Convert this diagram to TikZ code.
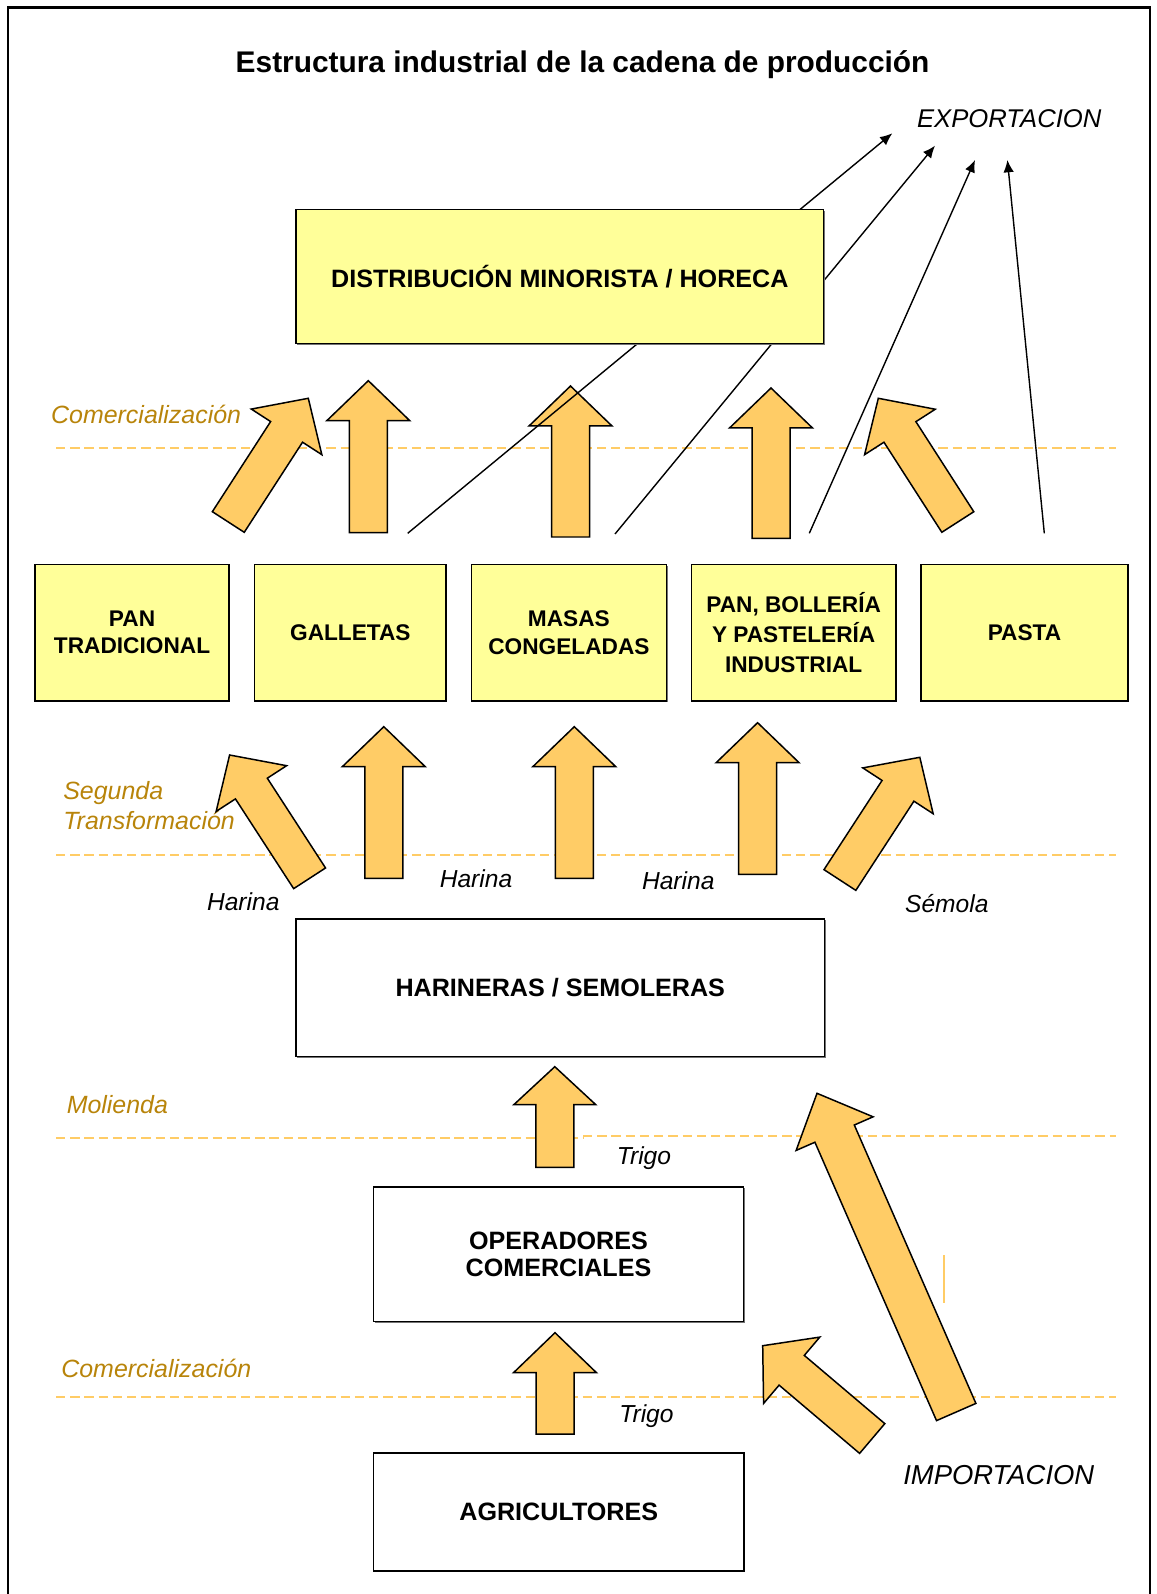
\documentclass[tikz,border=0pt]{standalone}
\usepackage{fontspec}
\setmainfont{Liberation Sans}
\usetikzlibrary{calc,arrows.meta,shadows}
\definecolor{boxyellow}{HTML}{FFFF99}
\definecolor{arrowfill}{HTML}{FFCC66}
\definecolor{stagecol}{RGB}{184,132,10}
\definecolor{dashcol}{HTML}{FFCC66}
\newcommand\blockarrow[5]{%
  \coordinate (ba-h) at ($(#2)!#5!(#1)$);
  \filldraw[blockarr] ($(#1)!#3!90:(#2)$) -- ($(ba-h)!#3!90:(#2)$) -- ($(ba-h)!#4!90:(#2)$) -- (#2)
    -- ($(ba-h)!#4!-90:(#2)$) -- ($(ba-h)!#3!-90:(#2)$) -- ($(#1)!#3!-90:(#2)$) -- cycle;
}
\tikzset{
  blockarr/.style={fill=arrowfill, draw=black, line width=0.85pt, line join=miter},
  box/.style={draw=black, line width=0.85pt, align=center, inner sep=2pt,
    general shadow={shadow xshift=0.7pt, shadow yshift=-0.7pt, fill=black!55}},
  ybox/.style={box, fill=boxyellow},
  wbox/.style={box, fill=white},
  bigtext/.style={font=\fontsize{14.3}{15.2}\selectfont\bfseries},
  smalltext/.style={font=\fontsize{12.9}{15.5}\selectfont\bfseries},
  stage/.style={anchor=base west, text=stagecol, font=\fontsize{14.2}{17}\selectfont\itshape, inner sep=0pt},
  flow/.style={anchor=base west, font=\fontsize{14}{17}\selectfont\itshape, inner sep=0pt},
  stageline/.style={draw=dashcol, line width=1.2pt, dash pattern=on 5.3pt off 2.8pt},
  exparrow/.style={draw=black, line width=0.8pt, -{Latex[length=7pt,width=6pt]}},
}
\begin{document}
\begin{tikzpicture}[x=0.02cm,y=-0.02cm]
\useasboundingbox (0,0) rectangle (1156,1594);
% frame
\draw[line width=1.2pt] (8,1594) -- (8,7.5) -- (1150,7.5) -- (1150,1594);

% title
\node[anchor=base, inner sep=0pt, font=\fontsize{17}{20}\selectfont\bfseries] (title) at (582.6,73) {Estructura industrial de la cadena de producción};

% stage labels
\node[stage] (st1) at (50.8,423.7) {Comercialización};
\node[stage, align=left] (st2a) at (63,799.5) {Segunda};
\node[stage, align=left] (st2b) at (63,829.5) {Transformación};
\node[stage] (st3) at (66.4,1113.8) {Molienda};
\node[stage] (st4) at (61,1377.4) {Comercialización};

% stage dashed lines
\draw[stageline] (56,447.7) -- (1116,447.7);
\draw[stageline] (56,855) -- (1116,855);
\draw[stageline] (56,1138.3) -- (583,1138.3);
\draw[stageline] (583,1136) -- (1116,1136);
\draw[stageline] (56,1396.7) -- (1116,1396.7);
\draw[draw=dashcol, line width=1.5pt] (944,1255) -- (944,1302.7);

% block arrow coordinates
\coordinate (a1t) at (228.3,522);   \coordinate (a1p) at (308.3,398.3);
\coordinate (a2t) at (368.3,532.7); \coordinate (a2p) at (368.3,380.7);
\coordinate (a3t) at (570.5,537);   \coordinate (a3p) at (570.5,386);
\coordinate (a4t) at (771,538.3);   \coordinate (a4p) at (771,388);
\coordinate (a5t) at (957.8,522);   \coordinate (a5p) at (878.3,398.3);
\coordinate (b1t) at (309.6,878.3); \coordinate (b1p) at (229.6,755);
\coordinate (b2t) at (383.8,878.3); \coordinate (b2p) at (383.8,726.7);
\coordinate (b3t) at (574.3,878.3); \coordinate (b3p) at (574.3,726.7);
\coordinate (b4t) at (757.6,874.3); \coordinate (b4p) at (757.6,722.7);
\coordinate (b5t) at (839.9,880);   \coordinate (b5p) at (919.8,757.3);
\coordinate (c1t) at (554.8,1167.3); \coordinate (c1p) at (554.8,1066.7);
\coordinate (c2t) at (956.2,1412);  \coordinate (c2p) at (817,1093.3);
\coordinate (c3t) at (872.2,1438.5); \coordinate (c3p) at (762.7,1345.7);
\coordinate (c4t) at (555,1434);    \coordinate (c4p) at (555,1332.7);

\blockarrow{a1t}{a1p}{0.38cm}{0.84cm}{0.8cm}
\blockarrow{a2t}{a2p}{0.38cm}{0.83cm}{0.8cm}
\blockarrow{a3t}{a3p}{0.38cm}{0.83cm}{0.8cm}
\blockarrow{a4t}{a4p}{0.38cm}{0.83cm}{0.8cm}
\blockarrow{a5t}{a5p}{0.38cm}{0.84cm}{0.8cm}
\blockarrow{b1t}{b1p}{0.38cm}{0.84cm}{0.8cm}
\blockarrow{b2t}{b2p}{0.38cm}{0.83cm}{0.8cm}
\blockarrow{b3t}{b3p}{0.38cm}{0.83cm}{0.8cm}
\blockarrow{b4t}{b4p}{0.38cm}{0.83cm}{0.8cm}
\blockarrow{b5t}{b5p}{0.38cm}{0.84cm}{0.8cm}
\blockarrow{c1t}{c1p}{0.38cm}{0.82cm}{0.76cm}
\blockarrow{c2t}{c2p}{0.43cm}{0.84cm}{0.88cm}
\blockarrow{c3t}{c3p}{0.39cm}{0.87cm}{0.76cm}
\blockarrow{c4t}{c4p}{0.38cm}{0.83cm}{0.8cm}

% export label and arrows
\node[anchor=base west, inner sep=0pt, font=\fontsize{14.6}{17}\selectfont\itshape] (export) at (916.7,128) {EXPORTACION};
\coordinate (e1t) at (407.7,533.3);  \coordinate (e1p) at (892.3,133.3);
\coordinate (e2t) at (615,534);      \coordinate (e2p) at (935,145.7);
\coordinate (e3t) at (809.3,533.3);  \coordinate (e3p) at (975,160);
\coordinate (e4t) at (1044.3,533.3); \coordinate (e4p) at (1007.4,160);
\draw[exparrow] (e1t) -- (e1p);
\draw[exparrow] (e2t) -- (e2p);
\draw[exparrow] (e3t) -- (e3p);
\draw[exparrow] (e4t) -- (e4p);

% boxes
\node[ybox, bigtext, minimum width=10.552cm, minimum height=2.684cm] (dist) at (559.8,276.6) {DISTRIBUCIÓN MINORISTA / HORECA};
\node[ybox, smalltext, minimum width=3.874cm, minimum height=2.734cm] (pan) at (132.05,632.65) {PAN\\TRADICIONAL};
\node[ybox, smalltext, minimum width=3.834cm, minimum height=2.734cm] (gal) at (350.35,632.65) {GALLETAS};
\node[ybox, smalltext, minimum width=3.896cm, minimum height=2.734cm] (mas) at (568.9,632.65) {MASAS\\CONGELADAS};
\node[ybox, font=\fontsize{12.9}{17.2}\selectfont\bfseries, minimum width=4.094cm, minimum height=2.734cm] (pbp) at (793.65,632.65) {PAN, BOLLERÍA\\Y PASTELERÍA\\INDUSTRIAL};
\node[ybox, smalltext, minimum width=4.14cm, minimum height=2.734cm] (pas) at (1024.5,632.65) {PASTA};
\node[wbox, bigtext, minimum width=10.57cm, minimum height=2.754cm] (har) at (560.25,987.85) {HARINERAS / SEMOLERAS};
\node[wbox, bigtext, minimum width=7.4cm, minimum height=2.694cm] (ope) at (558.5,1254.35) {OPERADORES\\COMERCIALES};
\node[wbox, bigtext, minimum width=7.41cm, minimum height=2.36cm] (agr) at (558.75,1512) {AGRICULTORES};

% flow labels
\node[flow] (h1) at (206.7,910.5) {Harina};
\node[flow] (h2) at (439.4,887.8) {Harina};
\node[flow] (h3) at (641.7,889.8) {Harina};
\node[flow] (sem) at (904.8,912.1) {Sémola};
\node[flow] (tr1) at (616.5,1164.8) {Trigo};
\node[flow] (tr2) at (619,1422.8) {Trigo};
\node[anchor=base west, inner sep=0pt, font=\fontsize{15.6}{18}\selectfont\itshape] (import) at (903,1484.9) {IMPORTACION};
\end{tikzpicture}
\end{document}
